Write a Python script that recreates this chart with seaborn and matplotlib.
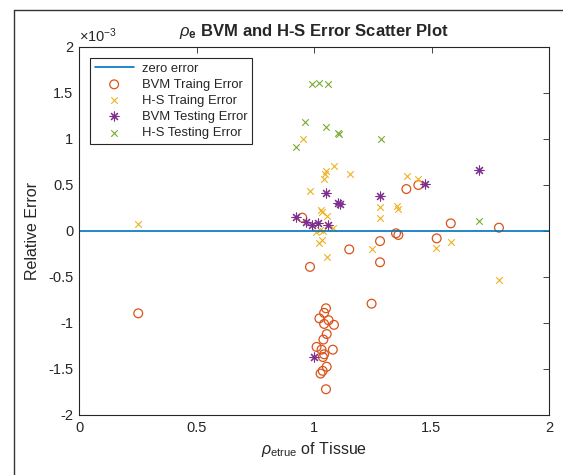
import numpy as np
import pandas as pd
import seaborn as sns
import matplotlib
matplotlib.use("Agg")
import matplotlib.pyplot as plt
from matplotlib.lines import Line2D
from matplotlib.ticker import FuncFormatter

# ---- data (x: rho_etrue, y: relative error in units of 1e-3) ----
bvm_train_x = [0.252, 0.950, 0.983, 1.150, 1.245, 1.281, 1.281, 1.349, 1.359, 1.393, 1.444,
               1.522, 1.582, 1.787,
               1.051, 1.043, 1.023, 1.062, 1.043, 1.085, 1.054, 1.040, 1.011, 1.032, 1.080,
               1.043, 1.038, 1.054, 1.037, 1.028, 1.051]
bvm_train_y = [-0.895, 0.145, -0.39, -0.20, -0.79, -0.34, -0.11, -0.025, -0.043, 0.456, 0.50,
               -0.08, 0.083, 0.036,
               -0.84, -0.89, -0.95, -0.97, -1.01, -1.02, -1.12, -1.18, -1.26, -1.29, -1.29,
               -1.34, -1.37, -1.475, -1.52, -1.55, -1.72]

hs_train_x = [0.252, 0.952, 0.983, 1.028, 1.034, 1.057, 1.043, 1.045, 1.050, 1.085, 1.153,
              1.080, 1.026, 1.040, 1.009, 1.032, 1.023, 1.054, 1.245, 1.281, 1.281, 1.352,
              1.359, 1.394, 1.444, 1.519, 1.582, 1.787]
hs_train_y = [0.076, 1.00, 0.43, 0.23, 0.21, 0.163, 0.56, 0.62, 0.655, 0.71, 0.616,
              0.036, 0.01, 0.0, -0.01, -0.10, -0.127, -0.28, -0.196, 0.26, 0.14, 0.275,
              0.24, 0.60, 0.57, -0.18, -0.116, -0.53]

bvm_test_x = [0.923, 0.967, 0.990, 1.018, 1.061, 1.051, 1.100, 1.110, 1.282, 1.474, 1.703, 1.000]
bvm_test_y = [0.15, 0.095, 0.065, 0.084, 0.07, 0.41, 0.30, 0.29, 0.38, 0.51, 0.663, -1.37]

hs_test_x = [0.990, 1.021, 1.061, 0.963, 1.051, 1.103, 1.108, 0.925, 1.284, 1.703]
hs_test_y = [1.60, 1.605, 1.60, 1.18, 1.127, 1.06, 1.05, 0.91, 1.00, 0.11]

zero_x = [0, 2]
zero_y = [0, 0]

x_ticks = [0, 0.5, 1, 1.5, 2]
y_ticks = [-2, -1.5, -1, -0.5, 0, 0.5, 1, 1.5, 2]

legend_labels = ["zero error", "BVM Traing Error", "H-S Traing Error",
                 "BVM Testing Error", "H-S Testing Error"]

sns.set_theme(style="white")
plt.rcParams['font.family'] = ['Liberation Sans', 'DejaVu Sans']
plt.rcParams['axes.unicode_minus'] = False
plt.rcParams['mathtext.fontset'] = 'custom'
plt.rcParams['mathtext.rm'] = 'Liberation Sans'
plt.rcParams['mathtext.it'] = 'Liberation Sans:italic'
plt.rcParams['mathtext.bf'] = 'Liberation Sans:bold'

c_line = '#0072BD'
c_bvm_tr = '#D95319'
c_hs_tr = '#EDB120'
c_bvm_te = '#7E2F8E'
c_hs_te = '#77AC30'
c_axis = '#262626'

fig = plt.figure(figsize=(5.63, 4.75), dpi=100)
fig.patch.set_facecolor('white')
ax = fig.add_axes([79/563, 60/475, 470/563, 368/475])

df_zero = pd.DataFrame({'x': zero_x, 'y': zero_y})
sns.lineplot(data=df_zero, x='x', y='y', ax=ax, color=c_line, linewidth=1.2,
             label=legend_labels[0])

sns.scatterplot(x=bvm_train_x, y=bvm_train_y, ax=ax, marker='o',
                s=40, facecolor='none', edgecolor=c_bvm_tr, linewidth=0.9,
                label=legend_labels[1])
sns.scatterplot(x=hs_train_x, y=hs_train_y, ax=ax, marker='x',
                s=22, color=c_hs_tr, linewidth=0.8, label=legend_labels[2])
sns.scatterplot(x=bvm_test_x, y=bvm_test_y, ax=ax, marker=(8, 2, 0),
                s=42, color=c_bvm_te, linewidth=0.8, label=legend_labels[3])
sns.scatterplot(x=hs_test_x, y=hs_test_y, ax=ax, marker='x',
                s=22, color=c_hs_te, linewidth=0.8, label=legend_labels[4])

ax.set_xlim(0, 2)
ax.set_ylim(-2, 2)
ax.set_xticks(x_ticks)
ax.set_yticks(y_ticks)
fmt = FuncFormatter(lambda v, p: ('%g' % v))
ax.xaxis.set_major_formatter(fmt)
ax.yaxis.set_major_formatter(fmt)

for sp in ax.spines.values():
    sp.set_color(c_axis)
    sp.set_linewidth(0.8)
ax.tick_params(direction='in', top=True, right=True, length=4, width=0.6,
               labelsize=10.5, colors=c_axis, pad=4)

ax.text(0.0, 1.006, r'$\times10^{-3}$', transform=ax.transAxes, fontsize=10.5,
        color=c_axis, ha='left', va='bottom')

ax.set_title(r'$\rho_{\mathbf{e}}$ BVM and H-S Error Scatter Plot', fontsize=12,
             fontweight='bold', pad=8)
ax.set_xlabel(r'$\rho_{\mathrm{etrue}}$ of Tissue', fontsize=11.5, color=c_axis)
ax.set_ylabel('Relative Error', fontsize=11.5, color=c_axis, labelpad=6)

leg = ax.legend(loc='upper left', bbox_to_anchor=(11/470, 1 - 11/368), fontsize=9.4,
                frameon=True, fancybox=False, edgecolor=c_axis, framealpha=1,
                handlelength=3.0, handletextpad=0.6, labelspacing=0.3,
                borderpad=0.35, borderaxespad=0)
leg.get_frame().set_linewidth(0.8)

# outer frame of the original figure
fig.add_artist(Line2D([14/563, 14/563], [0, 1 - 10/475], transform=fig.transFigure,
                      color='#333333', linewidth=1.0))
fig.add_artist(Line2D([14/563, 1], [1 - 10/475, 1 - 10/475], transform=fig.transFigure,
                      color='#333333', linewidth=1.0))

fig.savefig('out.png', dpi=100, facecolor='white')
